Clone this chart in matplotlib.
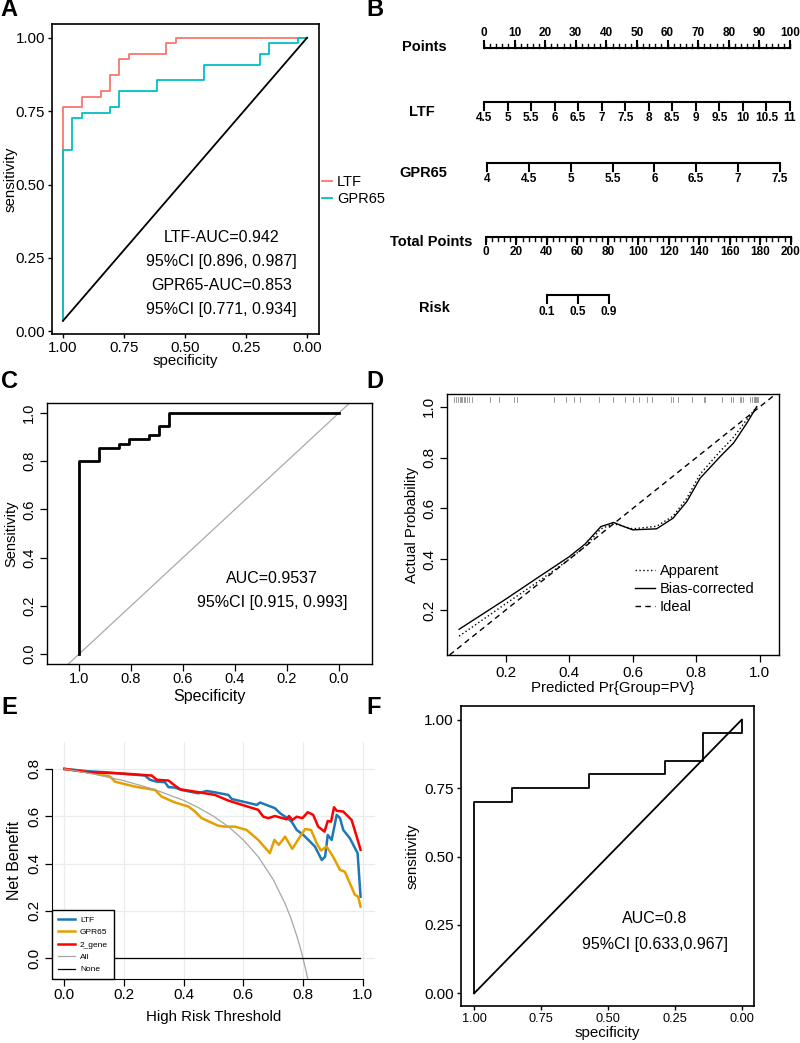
import numpy as np
import matplotlib
matplotlib.use("Agg")
import matplotlib.pyplot as plt
from matplotlib.lines import Line2D

plt.rcParams['font.family'] = ['Liberation Sans', 'DejaVu Sans']

W, H = 800, 1043

# ---- Panel A: ROC of the two genes ----
a_ltf_spec = [1, 1, 0.923, 0.923, 0.846, 0.846, 0.808, 0.808, 0.769, 0.769,
              0.731, 0.731, 0.577, 0.577, 0.538, 0.538, 0]
a_ltf_sens = [0.036, 0.764, 0.764, 0.8, 0.8, 0.818, 0.818, 0.873, 0.873, 0.927,
              0.927, 0.945, 0.945, 0.982, 0.982, 1, 1]
a_gpr_spec = [1, 1, 0.962, 0.962, 0.923, 0.923, 0.808, 0.808, 0.769, 0.769,
              0.615, 0.615, 0.423, 0.423, 0.192, 0.192, 0.154, 0.154, 0.038, 0.038, 0]
a_gpr_sens = [0.036, 0.618, 0.618, 0.727, 0.727, 0.745, 0.745, 0.764, 0.764, 0.818,
              0.818, 0.855, 0.855, 0.909, 0.909, 0.945, 0.945, 0.982, 0.982, 1, 1]
a_diag_spec = [1, 0]
a_diag_sens = [0.036, 1]
a_text = ["LTF-AUC=0.942", "95%CI [0.896, 0.987]", "GPR65-AUC=0.853", "95%CI [0.771, 0.934]"]

# ---- Panel B: nomogram ----
points_major = list(range(0, 101, 10))
points_minor = list(range(0, 101, 2))
ltf_values = [4.5, 5, 5.5, 6, 6.5, 7, 7.5, 8, 8.5, 9, 9.5, 10, 10.5, 11]
gpr_values = [4, 4.5, 5, 5.5, 6, 6.5, 7, 7.5]
gpr_points = [1.0, 96.7]          # points at GPR65 = 4 and 7.5
total_major = list(range(0, 201, 20))
total_minor = list(range(0, 201, 4))
total_pos = [0.65, 100.2]         # points-scale position of total 0 and 200
risk_values = [0.1, 0.5, 0.9]
risk_total = [40.0, 60.4, 80.7]

# ---- Panel C: ROC of the combined model ----
c_spec = [1, 1, 0.923, 0.923, 0.846, 0.846, 0.808, 0.808, 0.731, 0.731,
          0.692, 0.692, 0.654, 0.654, 0]
c_sens = [0, 0.8, 0.8, 0.855, 0.855, 0.873, 0.873, 0.891, 0.891, 0.909,
          0.909, 0.945, 0.945, 1, 1]

# ---- Panel D: calibration ----
d_x = [0.054, 0.2, 0.3, 0.4, 0.45, 0.5, 0.54, 0.57, 0.6, 0.675, 0.727, 0.77,
       0.812, 0.875, 0.917, 0.959, 0.99]
d_bias = [0.125, 0.243, 0.327, 0.41, 0.46, 0.529, 0.545, 0.53, 0.516, 0.52, 0.562,
          0.627, 0.719, 0.804, 0.857, 0.936, 1.0]
d_app = [0.098, 0.225, 0.31, 0.4, 0.45, 0.52, 0.54, 0.53, 0.52, 0.53, 0.57,
         0.64, 0.735, 0.825, 0.88, 0.95, 1.0]
d_rug = [0.039, 0.045, 0.05, 0.056, 0.06, 0.063, 0.068, 0.073, 0.078, 0.084, 0.095,
         0.151, 0.18, 0.226, 0.237, 0.352, 0.389, 0.415, 0.434, 0.495, 0.539, 0.577,
         0.60, 0.62, 0.644, 0.66, 0.72, 0.727, 0.741, 0.785, 0.825, 0.827, 0.88,
         0.908, 0.916, 0.937, 0.942, 0.947, 0.97, 0.975, 0.98, 0.983, 0.986, 0.989,
         0.992, 0.995]

# ---- Panel E: decision curves ----
e_ltf_pt = [0.0, 0.081, 0.136, 0.27, 0.287, 0.31, 0.337, 0.349, 0.371, 0.393, 0.449,
            0.477, 0.505, 0.55, 0.561, 0.645, 0.656, 0.706, 0.723, 0.745, 0.762, 0.779,
            0.801, 0.818, 0.84, 0.863, 0.874, 0.883, 0.896, 0.913, 0.924, 0.935, 0.957,
            0.983, 0.993]
e_ltf_nb = [0.80, 0.79, 0.786, 0.772, 0.754, 0.746, 0.744, 0.723, 0.721, 0.711, 0.697,
            0.707, 0.701, 0.69, 0.673, 0.648, 0.658, 0.634, 0.613, 0.594, 0.577, 0.542,
            0.521, 0.50, 0.472, 0.415, 0.429, 0.521, 0.50, 0.606, 0.592, 0.542, 0.507,
            0.444, 0.26]
e_gpr_pt = [0.0, 0.081, 0.153, 0.17, 0.237, 0.304, 0.326, 0.371, 0.416, 0.438, 0.46,
            0.516, 0.539, 0.572, 0.611, 0.65, 0.689, 0.704, 0.719, 0.74, 0.764, 0.79,
            0.807, 0.827, 0.846, 0.86, 0.879, 0.901, 0.924, 0.94, 0.957, 0.974, 0.985,
            0.993]
e_gpr_nb = [0.80, 0.786, 0.768, 0.746, 0.725, 0.711, 0.683, 0.658, 0.641, 0.62, 0.592,
            0.56, 0.556, 0.556, 0.542, 0.50, 0.444, 0.50, 0.479, 0.514, 0.462, 0.514,
            0.546, 0.542, 0.486, 0.455, 0.472, 0.429, 0.373, 0.366, 0.317, 0.268, 0.26,
            0.218]
e_two_pt = [0.0, 0.081, 0.17, 0.226, 0.293, 0.31, 0.349, 0.365, 0.388, 0.438, 0.505,
            0.55, 0.65, 0.667, 0.684, 0.706, 0.745, 0.753, 0.764, 0.779, 0.798, 0.816,
            0.834, 0.851, 0.872, 0.883, 0.894, 0.904, 0.913, 0.935, 0.963, 0.98, 0.993]
e_two_nb = [0.80, 0.786, 0.782, 0.778, 0.772, 0.754, 0.751, 0.735, 0.714, 0.704, 0.69,
            0.666, 0.627, 0.598, 0.592, 0.601, 0.587, 0.601, 0.584, 0.598, 0.592, 0.617,
            0.606, 0.556, 0.535, 0.58, 0.577, 0.638, 0.623, 0.62, 0.584, 0.514, 0.458]
e_all_pt = [0.0, 0.1, 0.2, 0.3, 0.4, 0.45, 0.5, 0.55, 0.6, 0.65, 0.7, 0.74, 0.76,
            0.78, 0.79, 0.8, 0.81, 0.82]
e_all_nb = [0.8, 0.778, 0.75, 0.714, 0.667, 0.636, 0.6, 0.556, 0.5, 0.429, 0.333,
            0.231, 0.167, 0.091, 0.048, 0.0, -0.053, -0.111]
e_none_pt = [0.0, 0.99]
e_none_nb = [0.0, 0.0]

# ---- Panel F: ROC in validation set ----
f_spec = [1, 1, 0.857, 0.857, 0.571, 0.571, 0.286, 0.286, 0.143, 0.143, 0, 0]
f_sens = [0, 0.7, 0.7, 0.75, 0.75, 0.8, 0.8, 0.85, 0.85, 0.95, 0.95, 1]


def px_axes(fig, x0, y0, x1, y1):
    return fig.add_axes([x0 / W, 1 - y1 / H, (x1 - x0) / W, (y1 - y0) / H])


def rotate_y_labels(ax):
    for lab in ax.get_yticklabels():
        lab.set_rotation(90)
        lab.set_va("center")
        lab.set_ha("center")


def place_labels(ax, box, xlab_py, ylab_px):
    # put axis-label centres at given pixel positions of the figure
    x0, y0, x1, y1 = box
    ax.xaxis.label.set_va("center")
    ax.yaxis.label.set_va("center")
    ax.xaxis.set_label_coords(0.5, (y1 - xlab_py) / (y1 - y0))
    ax.yaxis.set_label_coords((ylab_px - x0) / (x1 - x0), 0.5)


fig = plt.figure(figsize=(W / 100, H / 100), dpi=100)

# ---------------- A ----------------
box_a = (52, 24, 319, 334)
ax = px_axes(fig, *box_a)
ax.plot(a_ltf_spec, a_ltf_sens, color="#F8766D", lw=1.3, label="LTF")
ax.plot(a_gpr_spec, a_gpr_sens, color="#00BFC4", lw=1.3, label="GPR65")
ax.plot(a_diag_spec, a_diag_sens, color="black", lw=1.3)
ax.set_xlim(1.045, -0.049)
ax.set_ylim(-0.009, 1.047)
ticks = [1.0, 0.75, 0.5, 0.25, 0.0]
ax.set_xticks(ticks)
ax.set_xticklabels([f"{t:.2f}" for t in ticks])
ax.set_yticks(ticks)
ax.set_yticklabels([f"{t:.2f}" for t in ticks])
ax.tick_params(length=3, width=1, labelsize=10.8, pad=2)
for s in ax.spines.values():
    s.set_linewidth(1.2)
ax.set_xlabel("specificity", fontsize=10.8)
ax.set_ylabel("sensitivity", fontsize=10.8)
place_labels(ax, box_a, 361, 11)
for txt, yy in zip(a_text, [0.319, 0.237, 0.155, 0.075]):
    ax.text(0.35, yy, txt, ha="center", va="center", fontsize=11.5)
ax.legend(loc="center left", bbox_to_anchor=(1.01, 0.463), frameon=False,
          fontsize=10.5, handlelength=0.7, handletextpad=0.35, labelspacing=0.2,
          borderpad=0, borderaxespad=0)

# ---------------- B (nomogram) ----------------
axb = px_axes(fig, 340, 0, 800, 330)
scale = 3.06   # pixels per point
axb.set_xlim((340 - 484) / scale, (800 - 484) / scale)
axb.set_ylim(330, 0)
axb.axis("off")


def bx(px):
    return (px - 484) / scale


def draw_scale(pos, y, labels, lab_y, tick_dir, major_len, minor=None, minor_len=0):
    axb.plot([pos[0], pos[-1]], [y, y], color="black", lw=1.5, solid_capstyle="butt")
    if minor is not None:
        for p in minor:
            axb.plot([p, p], [y, y + tick_dir * minor_len], color="black", lw=1.0)
    for p, lab in zip(pos, labels):
        axb.plot([p, p], [y, y + tick_dir * major_len], color="black", lw=1.5)
        axb.text(p, lab_y, lab, ha="center", va="center", fontsize=8.5,
                 fontweight="bold")


def fmt(v):
    return f"{v:g}"


draw_scale(points_major, 47.7, [fmt(v) for v in points_major], 32.5, -1, 7,
           points_minor, 4)
ltf_pos = [(v - ltf_values[0]) / (ltf_values[-1] - ltf_values[0]) * 100 for v in ltf_values]
draw_scale(ltf_pos, 101.7, [fmt(v) for v in ltf_values], 118.3, 1, 8)
gpr_pos = [gpr_points[0] + (v - gpr_values[0]) / (gpr_values[-1] - gpr_values[0])
           * (gpr_points[1] - gpr_points[0]) for v in gpr_values]
draw_scale(gpr_pos, 163.3, [fmt(v) for v in gpr_values], 179, 1, 8)


def tot2pos(t):
    return total_pos[0] + t / 200 * (total_pos[1] - total_pos[0])


draw_scale([tot2pos(t) for t in total_major], 236.5, [fmt(v) for v in total_major],
           251.7, 1, 7, [tot2pos(t) for t in total_minor], 4)
draw_scale([tot2pos(t) for t in risk_total], 295, [fmt(v) for v in risk_values],
           311.7, 1, 8)
row_labels = [("Points", 424, 46.7), ("LTF", 421.7, 111.7), ("GPR65", 423, 173.3),
              ("Total Points", 431, 242), ("Risk", 434, 308)]
for lab, px, py in row_labels:
    axb.text(bx(px), py, lab, ha="center", va="center", fontsize=10.5,
             fontweight="bold", clip_on=False)

# ---------------- C ----------------
box_c = (47, 403, 372, 664)
ax = px_axes(fig, *box_c)
ax.axline((1, 0), (0, 1), color="#AAAAAA", lw=0.9)
ax.plot(c_spec, c_sens, color="black", lw=2.0)
ax.set_xlim(1.123, -0.127)
ax.set_ylim(-0.041, 1.041)
cticks = [1.0, 0.8, 0.6, 0.4, 0.2, 0.0]
ax.set_xticks(cticks)
ax.set_xticklabels([f"{t:.1f}" for t in cticks])
ax.set_yticks(cticks)
ax.set_yticklabels([f"{t:.1f}" for t in cticks])
ax.tick_params(length=5, width=0.9, labelsize=10.5, pad=1)
rotate_y_labels(ax)
ax.tick_params(axis="y", pad=8)
for s in ax.spines.values():
    s.set_linewidth(1.0)
ax.set_xlabel("Specificity", fontsize=11.5)
ax.set_ylabel("Sensitivity", fontsize=10.5)
place_labels(ax, box_c, 697, 11)
ax.text(0.258, 0.315, "AUC=0.9537", ha="center", va="center", fontsize=11.5)
ax.text(0.258, 0.212, "95%CI [0.915, 0.993]", ha="center", va="center", fontsize=11.5)

# ---------------- D ----------------
box_d = (447, 394, 779, 655)
ax = px_axes(fig, *box_d)
ax.axline((0, 0), (1, 1), color="black", lw=1.0, ls=(0, (4, 3)))
ax.plot(d_x, d_app, color="black", lw=1.0, ls=(0, (1, 1.8)))
ax.plot(d_x, d_bias, color="black", lw=1.0)
for r in d_rug:
    ax.plot([r, r], [1.017, 1.04], color="#8C8C8C", lw=0.6)
ax.set_xlim(0.016, 1.06)
ax.set_ylim(0.024, 1.05)
dticks = [0.2, 0.4, 0.6, 0.8, 1.0]
ax.set_xticks(dticks)
ax.set_xticklabels([f"{t:.1f}" for t in dticks])
ax.set_yticks(dticks)
ax.set_yticklabels([f"{t:.1f}" for t in dticks])
ax.tick_params(length=5, width=0.9, labelsize=11, pad=3)
rotate_y_labels(ax)
ax.tick_params(axis="y", pad=8)
for s in ax.spines.values():
    s.set_linewidth(1.0)
ax.set_xlabel("Predicted Pr{Group=PV}", fontsize=10.8)
ax.set_ylabel("Actual Probability", fontsize=10.8)
place_labels(ax, box_d, 688, 412)
d_handles = [Line2D([], [], color="black", lw=1.0, ls=(0, (1, 1.8))),
             Line2D([], [], color="black", lw=1.0),
             Line2D([], [], color="black", lw=1.0, ls=(0, (4, 3)))]
ax.legend(d_handles, ["Apparent", "Bias-corrected", "Ideal"], loc="upper left",
          bbox_to_anchor=(0.566, 0.35), frameon=False, fontsize=10.5,
          handlelength=1.4, handletextpad=0.3, labelspacing=0.3, borderpad=0,
          borderaxespad=0)

# ---------------- E ----------------
box_e = (52.4, 741.7, 374.6, 979.3)
ax = px_axes(fig, *box_e)
ax.set_xticks([0, 0.2, 0.4, 0.6, 0.8, 1.0])
ax.set_yticks([0, 0.2, 0.4, 0.6, 0.8])
ax.grid(color="#EBEBEB", lw=0.9)
ax.set_axisbelow(True)
h_ltf, = ax.plot(e_ltf_pt, e_ltf_nb, color="#1F78B4", lw=1.8)
h_gpr, = ax.plot(e_gpr_pt, e_gpr_nb, color="#E69F00", lw=1.8)
h_two, = ax.plot(e_two_pt, e_two_nb, color="#FF0000", lw=1.8)
h_all, = ax.plot(e_all_pt, e_all_nb, color="#A6A6A6", lw=0.9)
h_none, = ax.plot(e_none_pt, e_none_nb, color="black", lw=0.9)
ax.set_xlim(-0.04, 1.04)
ax.set_ylim(-0.089, 0.915)
ax.set_xticklabels(["0.0", "0.2", "0.4", "0.6", "0.8", "1.0"])
ax.set_yticklabels(["0.0", "0.2", "0.4", "0.6", "0.8"])
for side in ("top", "right"):
    ax.spines[side].set_visible(False)
ax.spines["left"].set_bounds(0, 0.8)
ax.spines["bottom"].set_bounds(0, 1.0)
ax.tick_params(length=5, width=0.9, labelsize=11, pad=1.5)
rotate_y_labels(ax)
ax.tick_params(axis="y", pad=8)
ax.set_xlabel("High Risk Threshold", fontsize=10.8)
ax.set_ylabel("Net Benefit", fontsize=11.5)
place_labels(ax, box_e, 1017, 14)
leg = ax.legend([h_ltf, h_gpr, h_two, h_all, h_none],
                ["LTF", "GPR65", "2_gene", "All", "None"], loc="lower left",
                bbox_to_anchor=(0, 0), borderaxespad=0, frameon=True, fancybox=False,
                edgecolor="black", framealpha=1, fontsize=6, handlelength=2.0,
                handletextpad=0.6, labelspacing=0.55, borderpad=0.7)
leg.get_frame().set_linewidth(1.0)

# ---------------- F ----------------
box_f = (460.7, 706, 754, 1006)
ax = px_axes(fig, *box_f)
ax.plot([1, 0], [0, 1], color="black", lw=1.3)
ax.plot(f_spec, f_sens, color="black", lw=1.3)
ax.set_xlim(1.05, -0.046)
ax.set_ylim(-0.046, 1.05)
ax.set_xticks(ticks)
ax.set_xticklabels([f"{t:.2f}" for t in ticks])
ax.set_yticks(ticks)
ax.set_yticklabels([f"{t:.2f}" for t in ticks])
ax.tick_params(length=3, width=1, pad=2)
ax.tick_params(axis="y", labelsize=11)
ax.tick_params(axis="x", labelsize=9.2)
for s in ax.spines.values():
    s.set_linewidth(1.2)
ax.set_xlabel("specificity", fontsize=10.8)
ax.set_ylabel("sensitivity", fontsize=10.8)
place_labels(ax, box_f, 1033, 413)
ax.text(0.325, 0.272, "AUC=0.8", ha="center", va="center", fontsize=11.5)
ax.text(0.325, 0.177, "95%CI [0.633,0.967]", ha="center", va="center", fontsize=11.5)

# ---------------- panel letters ----------------
for lab, px, py in [("A", 9, 10), ("B", 375, 10), ("C", 9, 381), ("D", 375, 381),
                    ("E", 9, 708), ("F", 374, 708)]:
    fig.text(px / W, 1 - py / H, lab, ha="center", va="center", fontsize=17,
             fontweight="bold")

fig.savefig("out.png", dpi=100)
